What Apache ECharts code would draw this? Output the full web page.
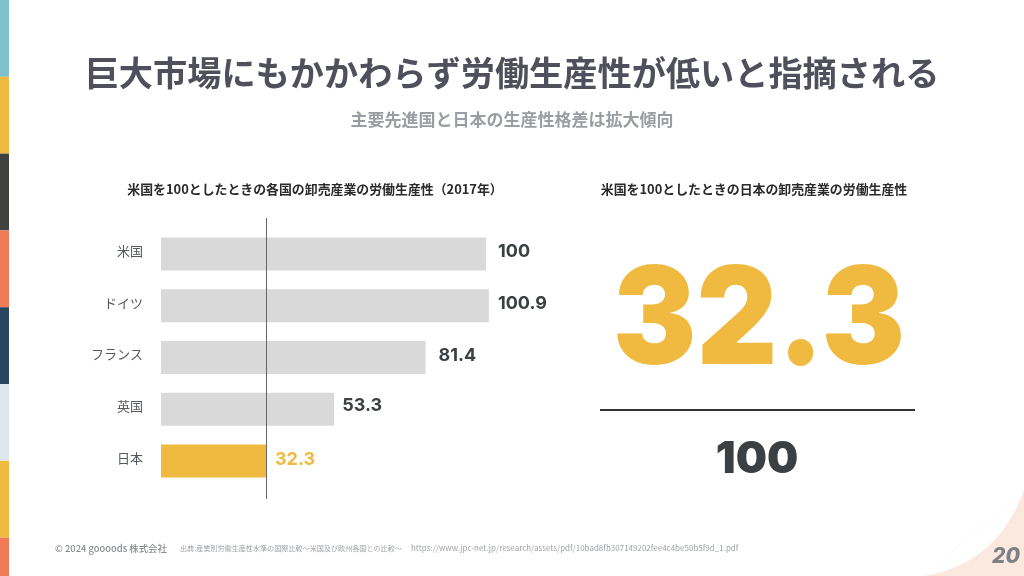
<!DOCTYPE html>
<html>
<head>
<meta charset="utf-8">
<style>
  html, body { margin: 0; padding: 0; background: #fff; }
  #main { width: 1024px; height: 576px; }
</style>
<script src="https://cdn.jsdelivr.net/npm/echarts@6/dist/echarts.min.js"></script>
</head>
<body>
<div id="main"></div>
<script>
const countries = ['米国', 'ドイツ', 'フランス', '英国', '日本'];
const productivity = [100, 100.9, 81.4, 53.3, 32.3];
const japanValue = 32.3;
const baseValue = 100;
const stripeColors = ['#80c2cb', '#efba3f', '#3f423e', '#ef7b54', '#2b4560', '#dfe5ec', '#efba3f', '#ef7b54'];
// the labels were placed by hand in the original, so they don't sit evenly
const labelOffsets = [[3, -2], [0, -2], [4, -2], [-1, -4], [0, -2]];

const CJK = '"Noto Sans CJK JP", "Noto Sans", sans-serif';
const NUM = 'Inter, "Noto Sans", sans-serif';
const YELLOW = '#efba3f';
const DARK = '#3c4043';

const chartDom = document.getElementById('main');
const myChart = echarts.init(chartDom);

const stripes = stripeColors.map((color, i) => ({
  type: 'rect',
  shape: { x: 0, y: i * 76.8, width: 9, height: 76.8 },
  style: { fill: color }
}));

function label(text, x, y, font, fill, align) {
  return {
    type: 'text', x, y,
    style: { text, font, fill, align: align || 'center', verticalAlign: 'middle' }
  };
}

const option = {
  animation: false,
  backgroundColor: '#fff',
  grid: { left: 161, top: 228, width: 390, height: 259 },
  xAxis: { type: 'value', min: 0, max: 120, show: false },
  yAxis: {
    type: 'category',
    inverse: true,
    data: countries,
    axisLine: { show: false },
    axisTick: { show: false },
    axisLabel: {
      margin: 18,
      fontSize: 13,
      color: '#55585c',
      fontFamily: CJK,
      verticalAlign: 'bottom',
      lineHeight: 6
    }
  },
  series: [
    {
      type: 'bar',
      barWidth: 33,
      data: productivity.map((v, i) => ({
        value: v,
        itemStyle: { color: v === japanValue ? YELLOW : '#d9d9d9' },
        label: { color: v === japanValue ? YELLOW : DARK, offset: labelOffsets[i] }
      })),
      label: {
        show: true,
        position: 'right',
        distance: 9,
        fontFamily: NUM,
        fontWeight: 700,
        fontSize: 18
      },
      markLine: {
        silent: true,
        symbol: 'none',
        label: { show: false },
        lineStyle: { color: '#666', width: 1, type: 'solid' },
        data: [[{ xAxis: japanValue, y: 218 }, { xAxis: japanValue, y: 499 }]]
      }
    }
  ],
  graphic: [
    // peach corner: triangle, with a white curved cap carving the edge
    {
      type: 'polygon',
      shape: { points: [[923, 576], [1024, 490], [1024, 576]] },
      style: { fill: '#fbe9e0' }
    },
    {
      type: 'bezierCurve',
      shape: { x1: 923, y1: 576, cpx1: 965, cpy1: 570, cpx2: 1005, cpy2: 545, x2: 1024, y2: 490 },
      style: { fill: '#fff', stroke: null }
    },
    ...stripes,
    label('巨大市場にもかかわらず労働生産性が低いと指摘される', 512, 73, '700 34.2px ' + CJK, '#50505c'),
    label('主要先進国と日本の生産性格差は拡大傾向', 512, 120, '700 17px ' + CJK, '#9a9ea3'),
    label('米国を100としたときの各国の卸売産業の労働生産性（2017年）', 315, 189, '700 12.9px ' + CJK, '#2a2a2a'),
    label('米国を100としたときの日本の卸売産業の労働生産性', 754, 189, '700 12.9px ' + CJK, '#2a2a2a'),
    Object.assign(label(String(japanValue), 759, 323, '900 136px ' + NUM, YELLOW), { scaleX: 0.92 }),
    {
      type: 'line',
      shape: { x1: 600, y1: 410, x2: 915, y2: 410 },
      style: { stroke: '#333', lineWidth: 2 }
    },
    label(String(baseValue), 757, 459.5, '900 44px ' + NUM, DARK),
    label('© 2024 goooods 株式会社', 55, 548, '500 9.4px ' + CJK, '#8a8d90', 'left'),
    label('出典:産業別労働生産性水準の国際比較〜米国及び欧州各国との比較〜', 180, 548, '400 7.1px ' + CJK, '#a0a3a6', 'left'),
    label('https://www.jpc-net.jp/research/assets/pdf/10bad8fb307149202fee4c4be50b5f9d_1.pdf', 411, 548, '400 8px ' + CJK, '#a0a3a6', 'left'),
    label('20', 1006, 557, 'italic 800 21px ' + NUM, '#7d8186')
  ]
};

myChart.setOption(option);
</script>
</body>
</html>
